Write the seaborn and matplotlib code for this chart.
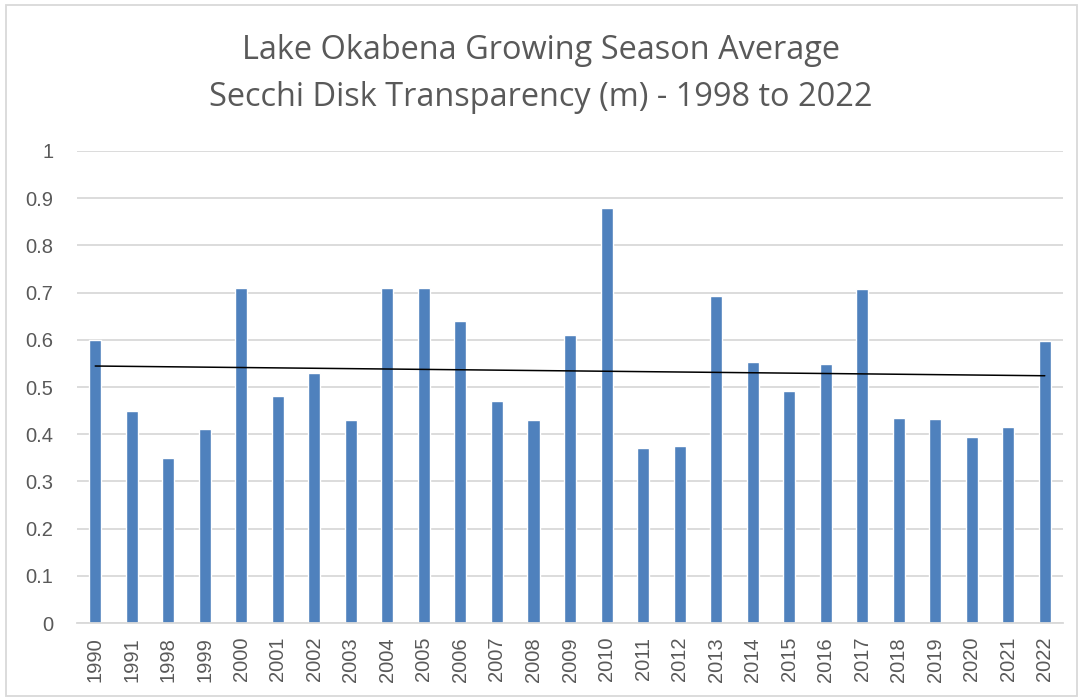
import numpy as np
import pandas as pd
import seaborn as sns
import matplotlib.pyplot as plt

# Growing season average Secchi depth (m)
years = ['1990', '1991', '1998', '1999', '2000', '2001', '2002', '2003', '2004',
         '2005', '2006', '2007', '2008', '2009', '2010', '2011', '2012', '2013',
         '2014', '2015', '2016', '2017', '2018', '2019', '2020', '2021', '2022']
secchi = [0.60, 0.45, 0.35, 0.41, 0.71, 0.48, 0.53, 0.43, 0.71,
          0.71, 0.64, 0.47, 0.43, 0.61, 0.88, 0.37, 0.375, 0.693,
          0.552, 0.492, 0.548, 0.707, 0.435, 0.433, 0.395, 0.415, 0.597]

df = pd.DataFrame({'Year': years, 'Secchi': secchi})

sns.set_style('white')
plt.rcParams['font.family'] = ['Liberation Sans', 'DejaVu Sans']

fig = plt.figure(figsize=(10.81, 6.98), dpi=100)
ax = fig.add_axes([0.0712, 0.1074, 0.9122, 0.6763])

sns.barplot(data=df, x='Year', y='Secchi', color='#4F81BD', saturation=1,
            width=0.33, ax=ax, zorder=2)

# linear trendline (like Excel)
x = np.arange(len(secchi))
slope, icpt = np.polyfit(x + 1, secchi, 1)
ax.plot(x, slope * (x + 1) + icpt, color='black', linewidth=1.1, zorder=3)

ax.set_ylim(0, 1)
ax.set_xlim(-0.5, len(years) - 0.5)
ax.set_yticks(np.arange(0, 1.01, 0.1))
ax.set_yticklabels(['0', '0.1', '0.2', '0.3', '0.4', '0.5', '0.6', '0.7', '0.8', '0.9', '1'])
ax.yaxis.grid(True, color='#D9D9D9', linewidth=1.3, zorder=0)
ax.set_axisbelow(True)
for s in ['top', 'right', 'left']:
    ax.spines[s].set_visible(False)
ax.spines['bottom'].set_color('#D9D9D9')
ax.spines['bottom'].set_linewidth(1.3)
ax.tick_params(axis='y', labelsize=14.5, colors='#595959', length=0, pad=17)
ax.tick_params(axis='x', labelsize=14.5, colors='#595959', length=0, rotation=90, pad=10)
ax.set_xlabel('')
ax.set_ylabel('')

fig.text(0.5, 0.928, 'Lake Okabena Growing Season Average', ha='center', va='center',
         fontsize=23.4, color='#595959', family=['Open Sans', 'DejaVu Sans'])
fig.text(0.5, 0.861, 'Secchi Disk Transparency (m) - 1998 to 2022', ha='center', va='center',
         fontsize=23.4, color='#595959', family=['Open Sans', 'DejaVu Sans'])

# chart border
fig.patches.append(plt.Rectangle((0.006, 0.003), 0.99, 0.99, transform=fig.transFigure,
                                 fill=False, edgecolor='#D9D9D9', linewidth=1.3))

fig.savefig('out.png', dpi=100)
